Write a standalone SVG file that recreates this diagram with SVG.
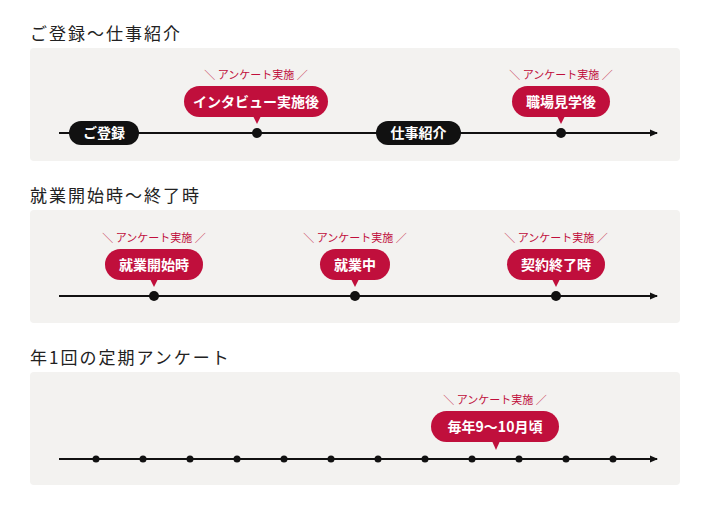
<svg xmlns="http://www.w3.org/2000/svg" width="710" height="506" viewBox="0 0 710 506">
<defs>
<style>
text{font-family:"Noto Sans CJK JP","Noto Sans",sans-serif}
.t{font-size:17px;fill:#222;letter-spacing:2px}
.p{fill:#f3f2f0}
.ln{stroke:#111;stroke-width:2;fill:none}
.an{font-size:11px;fill:#c00f3c;text-anchor:middle}
.b{fill:#c00f3c}
.bt{font-size:14px;font-weight:bold;fill:#fff;text-anchor:middle}
.k{fill:#111}
</style>
<marker id="ar" markerWidth="8" markerHeight="8" refX="7" refY="4" orient="auto" markerUnits="userSpaceOnUse"><path d="M0,0.5 L8,4 L0,7.5z" fill="#111"/></marker>
</defs>
<text class="t" x="30" y="40">ご登録〜仕事紹介</text>
<text class="t" x="30" y="202">就業開始時〜終了時</text>
<text class="t" x="30" y="364">年1回の定期アンケート</text>
<rect class="p" x="30" y="48" width="650" height="113" rx="4"/>
<rect class="p" x="30" y="210" width="650" height="113" rx="4"/>
<rect class="p" x="30" y="372" width="650" height="113" rx="4"/>
<g id="connectors">
<line class="ln" x1="59" y1="133" x2="657" y2="133" marker-end="url(#ar)"/>
<line class="ln" x1="59" y1="296" x2="657" y2="296" marker-end="url(#ar)"/>
<line class="ln" x1="59" y1="459" x2="657" y2="459" marker-end="url(#ar)"/>
</g>
<g id="n-register"><rect class="k" x="69" y="121" width="70" height="24" rx="12"/><text class="bt" x="104" y="138">ご登録</text></g>
<g id="n-interview"><circle class="k" cx="257" cy="133" r="5"/><rect class="b" x="184" y="86" width="144" height="31" rx="15.5"/><path class="b" d="M253,116 L257,124 L261,116z"/><text class="bt" x="256" y="107">インタビュー実施後</text><text class="an" x="256" y="79">＼ アンケート実施 ／</text></g>
<g id="n-intro"><rect class="k" x="376" y="121" width="85" height="24" rx="12"/><text class="bt" x="418.5" y="138">仕事紹介</text></g>
<g id="n-visit"><circle class="k" cx="561" cy="133" r="5"/><rect class="b" x="512" y="86" width="98" height="31" rx="15.5"/><path class="b" d="M557,116 L561,124 L565,116z"/><text class="bt" x="561" y="107">職場見学後</text><text class="an" x="561" y="79">＼ アンケート実施 ／</text></g>
<g id="n-start"><circle class="k" cx="154" cy="296" r="5"/><rect class="b" x="105" y="249" width="98" height="31" rx="15.5"/><path class="b" d="M150,279 L154,287 L158,279z"/><text class="bt" x="154" y="270">就業開始時</text><text class="an" x="154" y="242">＼ アンケート実施 ／</text></g>
<g id="n-working"><circle class="k" cx="355" cy="296" r="5"/><rect class="b" x="320" y="249" width="70" height="31" rx="15.5"/><path class="b" d="M351,279 L355,287 L359,279z"/><text class="bt" x="355" y="270">就業中</text><text class="an" x="355" y="242">＼ アンケート実施 ／</text></g>
<g id="n-end"><circle class="k" cx="556" cy="296" r="5"/><rect class="b" x="507" y="249" width="98" height="31" rx="15.5"/><path class="b" d="M552,279 L556,287 L560,279z"/><text class="bt" x="556" y="270">契約終了時</text><text class="an" x="556" y="242">＼ アンケート実施 ／</text></g>
<g id="n-yearly">
<circle class="k" cx="96" cy="459" r="3.5"/><circle class="k" cx="143" cy="459" r="3.5"/><circle class="k" cx="190" cy="459" r="3.5"/><circle class="k" cx="237" cy="459" r="3.5"/><circle class="k" cx="284" cy="459" r="3.5"/><circle class="k" cx="331" cy="459" r="3.5"/><circle class="k" cx="378" cy="459" r="3.5"/><circle class="k" cx="425" cy="459" r="3.5"/><circle class="k" cx="472" cy="459" r="3.5"/><circle class="k" cx="519" cy="459" r="3.5"/><circle class="k" cx="566" cy="459" r="3.5"/><circle class="k" cx="613" cy="459" r="3.5"/>
<rect class="b" x="431" y="411" width="128" height="31" rx="15.5"/><path class="b" d="M492,441 L496,450 L500,441z"/><text class="bt" x="495" y="432">毎年9〜10月頃</text><text class="an" x="495" y="404">＼ アンケート実施 ／</text></g>
</svg>
